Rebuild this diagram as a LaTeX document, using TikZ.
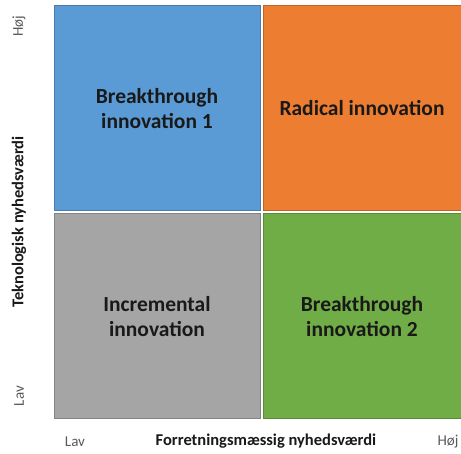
\documentclass[tikz,border=0pt]{standalone}
\usepackage{fontspec}
\setmainfont{Carlito}
\usetikzlibrary{positioning}
\definecolor{qblue}{RGB}{91,155,213}
\definecolor{qorange}{RGB}{237,125,49}
\definecolor{qgray}{RGB}{165,165,165}
\definecolor{qgreen}{RGB}{112,173,71}
\definecolor{axisgray}{RGB}{89,89,89}
\tikzstyle{quad} = [draw, line width=1pt, minimum height=205pt, font=\fontsize{21.5}{25}\selectfont\bfseries, align=center, text=black!90]
\tikzstyle{axislabel} = [font=\fontsize{16.5}{19}\selectfont\bfseries, text=black!90]
\tikzstyle{tick} = [font=\fontsize{15}{18}\selectfont, text=axisgray]

\begin{document}
\begin{tikzpicture}[x=1pt, y=-1pt]
            \useasboundingbox (0,0) rectangle (461,454);
            % quadrants
            \node[quad, fill=qblue, draw=qblue!80!black, minimum width=206pt] (bt1) at (157,108.5) {Breakthrough\\innovation 1};
            \node[quad, fill=qorange, draw=qorange!80!black, minimum width=198pt] (rad) at (362,108.5) {Radical innovation};
            \node[quad, fill=qgray, draw=qgray!80!black, minimum width=206pt] (inc) at (157,316.5) {Incremental\\innovation};
            \node[quad, fill=qgreen, draw=qgreen!80!black, minimum width=198pt] (bt2) at (362,316.5) {Breakthrough\\innovation 2};
            % axes
            \node[axislabel, rotate=90] (ylab) at (19,222) {Teknologisk nyhedsværdi};
            \node[tick, rotate=90] (yhi) at (19,26) {Høj};
            \node[tick, rotate=90] (ylo) at (19,396) {Lav};
            \node[axislabel] (xlab) at (266,441) {Forretningsmæssig nyhedsværdi};
            \node[tick] (xlo) at (75,442) {Lav};
            \node[tick] (xhi) at (448,442) {Høj};
        \end{tikzpicture}
\end{document}
